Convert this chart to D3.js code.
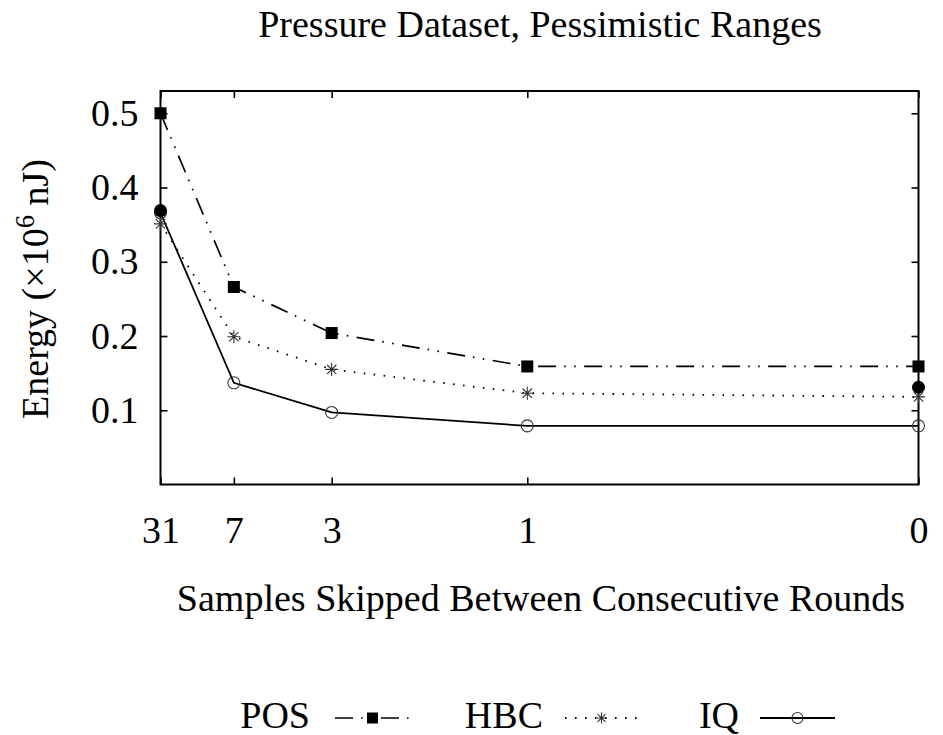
<!DOCTYPE html>
<html>
<head>
<meta charset="utf-8">
<script src="https://cdn.jsdelivr.net/npm/d3@7"></script>
<style>
  html, body { margin: 0; padding: 0; background: #fff; }
  svg { display: block; }
</style>
</head>
<body>
<svg id="chart" width="943" height="735"></svg>
<script>
// ---- data ----
const skipped = [31, 7, 3, 1, 0];            // x categories (samples skipped)
const posValues = [0.500, 0.266, 0.204, 0.159, 0.159];
const hbcValues = [0.351, 0.199, 0.155, 0.123, 0.118];
const iqValues  = [0.366, 0.137, 0.097, 0.079, 0.079];
const extraValues = [0.369, null, null, null, 0.131]; // filled circle points
const yTicks = [0.1, 0.2, 0.3, 0.4, 0.5];
const seriesNames = ["POS", "HBC", "IQ"];

// x positions: sampling rate 1/(skipped+1)
const rate = skipped.map(s => 1 / (s + 1));

const FONT = "'Liberation Serif', 'Times New Roman', Times, 'DejaVu Serif', serif";
const svg = d3.select("#chart").attr("font-family", FONT);
const pL = 160.5, pR = 918.5, pT = 91, pB = 484.5;

const x = d3.scaleLinear().domain([1/32, 1]).range([pL, pR]);
const y = d3.scaleLinear().domain([0, 0.53]).range([pB, pT]);

const FS = 38;

// Title
svg.append("text").attr("x", 540).attr("y", 37).attr("text-anchor", "middle")
  .attr("font-family", FONT).attr("font-size", FS).text("Pressure Dataset, Pessimistic Ranges");

// Axes (ticks inward, mirrored)
const tickLen = 7;
const gL = svg.append("g").attr("transform", `translate(${pL},0)`)
  .call(d3.axisLeft(y).tickValues(yTicks).tickSize(-tickLen).tickPadding(22).tickFormat(d3.format(".1f")));
const gR = svg.append("g").attr("transform", `translate(${pR},0)`)
  .call(d3.axisRight(y).tickValues(yTicks).tickSize(-tickLen).tickFormat(""));
const gB = svg.append("g").attr("transform", `translate(0,${pB})`)
  .call(d3.axisBottom(x).tickValues(rate).tickSize(-tickLen).tickPadding(32)
    .tickFormat((d, i) => skipped[i]));
const gT = svg.append("g").attr("transform", `translate(0,${pT})`)
  .call(d3.axisTop(x).tickValues(rate).tickSize(-tickLen).tickFormat(""));
[gL, gR, gB, gT].forEach(g => {
  g.attr("font-family", FONT).attr("font-size", FS);
  g.select(".domain").remove();
  g.selectAll(".tick line").attr("stroke", "#000").attr("stroke-width", 1.6);
  g.selectAll("text").attr("font-size", FS).attr("font-family", FONT).attr("fill", "#000");
});
gL.selectAll("text").attr("dy", "0.32em");
gB.selectAll("text").attr("dy", "0.71em");

// Frame
svg.append("rect").attr("x", pL).attr("y", pT).attr("width", pR - pL).attr("height", pB - pT)
  .attr("fill", "none").attr("stroke", "#000").attr("stroke-width", 2);

// Axis labels
svg.append("text").attr("x", 541).attr("y", 611).attr("text-anchor", "middle")
  .attr("font-family", FONT).attr("font-size", FS).text("Samples Skipped Between Consecutive Rounds");
const yl = svg.append("text").attr("transform", "translate(48,289) rotate(-90)")
  .attr("text-anchor", "middle").attr("font-family", FONT).attr("font-size", FS);
yl.append("tspan").text("Energy (×10");
yl.append("tspan").attr("font-size", FS * 0.7).attr("dy", -14).text("6");
yl.append("tspan").attr("dy", 14).text(" nJ)");

// Line styles
const styles = {
  POS: { dash: "18,8,1.6,8.4,1.6,8.4", width: 1.7 },
  HBC: { dash: "1.6,8.4", width: 1.8 },
  IQ:  { dash: null, width: 1.8 }
};

const line = d3.line().defined(d => d[1] != null).x(d => x(d[0])).y(d => y(d[1]));
const seriesData = { POS: posValues, HBC: hbcValues, IQ: iqValues };

function drawMarker(g, type, cx, cy, s) {
  if (type === "POS") {
    g.append("rect").attr("x", cx - s/2).attr("y", cy - s/2).attr("width", s).attr("height", s).attr("fill", "#000");
  } else if (type === "HBC") {
    const r = s / 2;
    const p = d3.path();
    p.moveTo(cx - r, cy); p.lineTo(cx + r, cy);
    p.moveTo(cx, cy - r); p.lineTo(cx, cy + r);
    const q = r * 0.72;
    p.moveTo(cx - q, cy - q); p.lineTo(cx + q, cy + q);
    p.moveTo(cx - q, cy + q); p.lineTo(cx + q, cy - q);
    g.append("path").attr("d", p.toString()).attr("stroke", "#333").attr("stroke-width", 1.1).attr("fill", "none");
  } else if (type === "IQ") {
    g.append("circle").attr("cx", cx).attr("cy", cy).attr("r", s/2).attr("fill", "none")
      .attr("stroke", "#333").attr("stroke-width", 1.1);
  }
}

const markerSize = { POS: 12, HBC: 13, IQ: 12 };
const plot = svg.append("g");
seriesNames.forEach(name => {
  const vals = seriesData[name];
  const pts = rate.map((r, i) => [r, vals[i]]);
  const st = styles[name];
  plot.append("path").datum(pts).attr("d", line).attr("fill", "none").attr("stroke", "#000")
    .attr("stroke-width", st.width).attr("stroke-dasharray", st.dash);
});
seriesNames.forEach(name => {
  const vals = seriesData[name];
  const g = plot.append("g");
  rate.forEach((r, i) => { if (vals[i] != null) drawMarker(g, name, x(r), y(vals[i]), markerSize[name]); });
});
// Filled circle points
plot.selectAll("circle.extra").data(rate.map((r, i) => [r, extraValues[i]]).filter(d => d[1] != null))
  .enter().append("circle").attr("class", "extra")
  .attr("cx", d => x(d[0])).attr("cy", d => y(d[1])).attr("r", 6.5).attr("fill", "#000");

// Legend
const legendY = 718;
const legend = [
  { name: "POS", textX: 310, x0: 335, x1: 410 },
  { name: "HBC", textX: 543, x0: 565, x1: 638 },
  { name: "IQ",  textX: 739, x0: 760, x1: 835 }
];
legend.forEach(l => {
  svg.append("text").attr("x", l.textX).attr("y", legendY + 10).attr("text-anchor", "end")
    .attr("font-family", FONT).attr("font-size", FS).text(l.name);
  const st = styles[l.name];
  svg.append("line").attr("x1", l.x0).attr("x2", l.x1).attr("y1", legendY).attr("y2", legendY)
    .attr("stroke", "#000").attr("stroke-width", st.width).attr("stroke-dasharray", st.dash);
  drawMarker(svg.append("g"), l.name, (l.x0 + l.x1) / 2, legendY, l.name === "POS" ? 11 : 11);
});
</script>
</body>
</html>
